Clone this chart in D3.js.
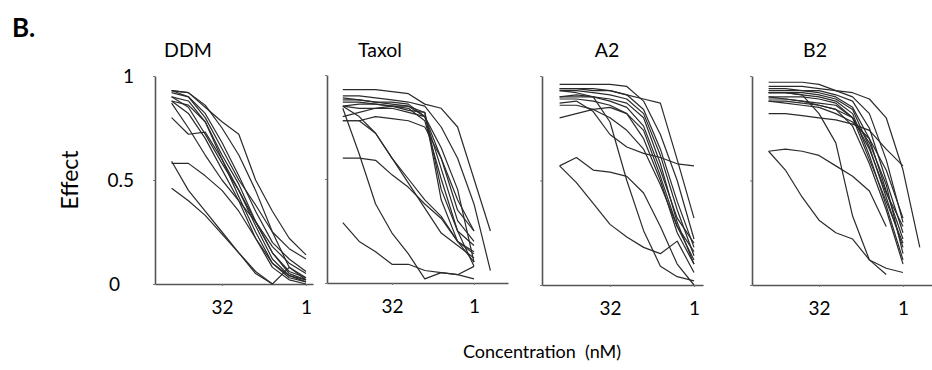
<!DOCTYPE html>
<html>
<head>
<meta charset="utf-8">
<script src="https://cdn.jsdelivr.net/npm/d3@7"></script>
<style>
  body { margin: 0; background: #fff; }
  svg { display: block; font-family: Lato, "Open Sans", sans-serif; }
</style>
</head>
<body>
<div id="chart"></div>
<script>
// concentration steps (nM), two-fold dilutions from high to low
const concentrations = [256, 128, 64, 32, 16, 8, 4, 2, 1, 0.5];
const panelTitles = ['DDM', 'Taxol', 'A2', 'B2'];
const yTicks = [0, 0.5, 1];
const xTicks = [32, 1];

// effect values per curve, one value per concentration step (curves may stop early)
const ddmCurves = [
  [0.93, 0.92, 0.86, 0.75, 0.62, 0.45, 0.25, 0.08, 0.02],
  [0.93, 0.92, 0.85, 0.78, 0.72, 0.50, 0.35, 0.22, 0.14],
  [0.92, 0.90, 0.80, 0.65, 0.50, 0.38, 0.25, 0.17, 0.12],
  [0.90, 0.85, 0.72, 0.58, 0.45, 0.28, 0.12, 0.04, 0.01],
  [0.88, 0.82, 0.70, 0.55, 0.40, 0.22, 0.08, 0.02, 0.00],
  [0.87, 0.75, 0.62, 0.50, 0.40, 0.30, 0.18, 0.10, 0.05],
  [0.80, 0.72, 0.73, 0.60, 0.45, 0.30, 0.15, 0.05, 0.02],
  [0.58, 0.58, 0.52, 0.45, 0.35, 0.22, 0.10, 0.03, 0.01],
  [0.59, 0.45, 0.35, 0.25, 0.15, 0.05, 0.00, 0.08, 0.03],
  [0.46, 0.40, 0.33, 0.24, 0.15, 0.06, 0.00],
  [0.93, 0.90, 0.82, 0.68, 0.52, 0.35, 0.20, 0.12, 0.06],
  [0.88, 0.86, 0.78, 0.62, 0.48, 0.30, 0.15, 0.06, 0.03],
  [0.90, 0.88, 0.78, 0.60, 0.42, 0.25, 0.10, 0.04, 0.02]
];

const taxolCurves = [
  [0.93, 0.93, 0.93, 0.92, 0.91, 0.86, 0.84, 0.75, 0.50, 0.25],
  [0.90, 0.90, 0.89, 0.88, 0.87, 0.85, 0.75, 0.60, 0.38, 0.06],
  [0.89, 0.88, 0.87, 0.87, 0.86, 0.80, 0.55, 0.30, 0.20],
  [0.88, 0.88, 0.87, 0.86, 0.85, 0.82, 0.45, 0.25, 0.18],
  [0.87, 0.87, 0.86, 0.85, 0.85, 0.80, 0.60, 0.35, 0.25],
  [0.85, 0.86, 0.86, 0.85, 0.84, 0.78, 0.50, 0.25, 0.08],
  [0.85, 0.84, 0.84, 0.84, 0.82, 0.80, 0.65, 0.45, 0.10],
  [0.80, 0.82, 0.84, 0.85, 0.83, 0.82, 0.40, 0.20, 0.15],
  [0.78, 0.78, 0.80, 0.79, 0.78, 0.75, 0.60, 0.40, 0.25],
  [0.84, 0.62, 0.38, 0.24, 0.14, 0.02, 0.05, 0.04, 0.08],
  [0.85, 0.80, 0.72, 0.60, 0.48, 0.36, 0.24, 0.18, 0.12],
  [0.78, 0.78, 0.72, 0.60, 0.50, 0.40, 0.32, 0.20, 0.10],
  [0.60, 0.60, 0.59, 0.52, 0.46, 0.38, 0.31, 0.20, 0.14],
  [0.29, 0.20, 0.15, 0.09, 0.09, 0.06, 0.05, 0.04, 0.02]
];

const a2Curves = [
  [0.96, 0.96, 0.96, 0.96, 0.95, 0.88, 0.72, 0.50, 0.22],
  [0.94, 0.94, 0.94, 0.93, 0.91, 0.89, 0.87, 0.60, 0.32],
  [0.94, 0.94, 0.93, 0.93, 0.91, 0.84, 0.65, 0.40, 0.18],
  [0.93, 0.93, 0.92, 0.91, 0.89, 0.82, 0.62, 0.36, 0.14],
  [0.90, 0.90, 0.90, 0.89, 0.87, 0.80, 0.58, 0.30, 0.10],
  [0.90, 0.91, 0.90, 0.88, 0.85, 0.76, 0.55, 0.32, 0.20],
  [0.89, 0.89, 0.88, 0.86, 0.82, 0.74, 0.52, 0.28, 0.12],
  [0.87, 0.88, 0.83, 0.72, 0.66, 0.63, 0.61, 0.58, 0.57],
  [0.86, 0.86, 0.84, 0.80, 0.74, 0.65, 0.48, 0.28, 0.16],
  [0.80, 0.82, 0.84, 0.85, 0.82, 0.70, 0.50, 0.25, 0.10],
  [0.93, 0.92, 0.90, 0.78, 0.50, 0.26, 0.09, 0.04, 0.02],
  [0.57, 0.61, 0.55, 0.54, 0.52, 0.44, 0.28, 0.10, 0.00],
  [0.57, 0.49, 0.39, 0.29, 0.23, 0.18, 0.15, 0.21, 0.06]
];

const b2Curves = [
  [0.97, 0.97, 0.97, 0.96, 0.93, 0.92, 0.89, 0.80, 0.55, 0.18],
  [0.95, 0.95, 0.95, 0.94, 0.93, 0.90, 0.82, 0.60, 0.30],
  [0.94, 0.94, 0.93, 0.93, 0.91, 0.88, 0.75, 0.50, 0.25],
  [0.93, 0.93, 0.93, 0.92, 0.90, 0.85, 0.70, 0.45, 0.22],
  [0.92, 0.92, 0.92, 0.91, 0.89, 0.84, 0.66, 0.42, 0.18],
  [0.92, 0.92, 0.91, 0.90, 0.88, 0.82, 0.62, 0.38, 0.12],
  [0.90, 0.90, 0.90, 0.89, 0.87, 0.80, 0.65, 0.44, 0.28],
  [0.89, 0.89, 0.88, 0.87, 0.86, 0.80, 0.60, 0.40, 0.20],
  [0.88, 0.88, 0.87, 0.86, 0.84, 0.76, 0.58, 0.36, 0.10],
  [0.88, 0.87, 0.86, 0.85, 0.82, 0.78, 0.70, 0.55, 0.32],
  [0.82, 0.82, 0.81, 0.80, 0.79, 0.77, 0.74, 0.65, 0.57],
  [0.92, 0.92, 0.91, 0.82, 0.68, 0.33, 0.12, 0.05],
  [0.64, 0.65, 0.64, 0.62, 0.57, 0.52, 0.45, 0.28],
  [0.64, 0.55, 0.42, 0.31, 0.25, 0.22, 0.12, 0.08, 0.06],
  [0.90, 0.89, 0.88, 0.86, 0.84, 0.80, 0.68, 0.48, 0.15]
];

const curveSets = [ddmCurves, taxolCurves, a2Curves, b2Curves];

const width = 932;
const height = 370;
const labelFont = 'Lato, "Open Sans", sans-serif';

// panel frames: axis extents, where the 32 and 1 ticks sit, title centre
const frames = [
  { left: 155, right: 313, top: 76, bottom: 284, x32: 222, x1: 306, titleX: 188 },
  { left: 327, right: 508, top: 75, bottom: 283, x32: 392, x1: 474, titleX: 380 },
  { left: 542, right: 703, top: 76, bottom: 285, x32: 610, x1: 694, titleX: 607 },
  { left: 752, right: 932, top: 76, bottom: 285, x32: 819, x1: 903, titleX: 815 }
];

const svg = d3.select('#chart')
  .append('svg')
  .attr('width', width)
  .attr('height', height);

svg.append('text')
  .attr('x', 12)
  .attr('y', 37)
  .style('font-size', '26px')
  .style('font-weight', 'bold')
  .text('B.');

svg.append('text')
  .attr('transform', 'translate(78,180) rotate(-90)')
  .attr('text-anchor', 'middle')
  .style('font-size', '23px')
  .text('Effect');

svg.append('text')
  .attr('x', 542)
  .attr('y', 358)
  .attr('text-anchor', 'middle')
  .style('font-size', '18px')
  .attr('xml:space', 'preserve')
  .text('Concentration  (nM)');

frames.forEach((f, i) => {
  // log scale, high concentration on the left
  const xScale = d3.scaleLog().base(2).domain([32, 1]).range([f.x32, f.x1]);
  xScale.domain([xScale.invert(f.left), xScale.invert(f.right)]).range([f.left, f.right]);
  const yScale = d3.scaleLinear().domain([0, 1]).range([f.bottom, f.top]);

  const g = svg.append('g');

  g.append('text')
    .attr('x', f.titleX)
    .attr('y', 57)
    .attr('text-anchor', 'middle')
    .style('font-size', '19.5px')
    .text(panelTitles[i]);

  // y axis
  const yAxis = g.append('g')
    .attr('transform', `translate(${f.left},0)`)
    .call(d3.axisLeft(yScale)
      .tickValues(yTicks)
      .tickSize(2)
      .tickSizeOuter(0)
      .tickPadding(20)
      .tickFormat(i === 0 ? d3.format('') : () => ''));
  yAxis.selectAll('text')
    .style('font-size', '19px')
    .style('font-family', labelFont)
    .attr('fill', '#000')
    .attr('text-anchor', (d) => (d === 0 ? 'start' : 'end'))
    .attr('x', (d) => (d === 0 ? -46 : -21));

  // x axis
  const xAxis = g.append('g')
    .attr('transform', `translate(0,${f.bottom})`)
    .call(d3.axisBottom(xScale)
      .tickValues(xTicks)
      .tickSize(2)
      .tickSizeOuter(0)
      .tickPadding(15)
      .tickFormat(d3.format('')));
  xAxis.selectAll('text')
    .style('font-size', '19px')
    .style('font-family', labelFont)
    .attr('fill', '#000');

  svg.selectAll('.domain').attr('stroke', '#555').attr('stroke-width', 1.6);
  svg.selectAll('.tick line').attr('stroke', '#777');

  // dose-response curves
  const line = d3.line()
    .x((d) => xScale(d[0]))
    .y((d) => yScale(d[1]));

  g.append('g')
    .selectAll('path')
    .data(curveSets[i])
    .join('path')
    .attr('d', (vals) => line(vals.map((v, k) => [concentrations[k], v])))
    .attr('fill', 'none')
    .attr('stroke', '#2b2b2b')
    .attr('stroke-width', 1.2)
    .attr('stroke-linejoin', 'round');
});
</script>
</body>
</html>
